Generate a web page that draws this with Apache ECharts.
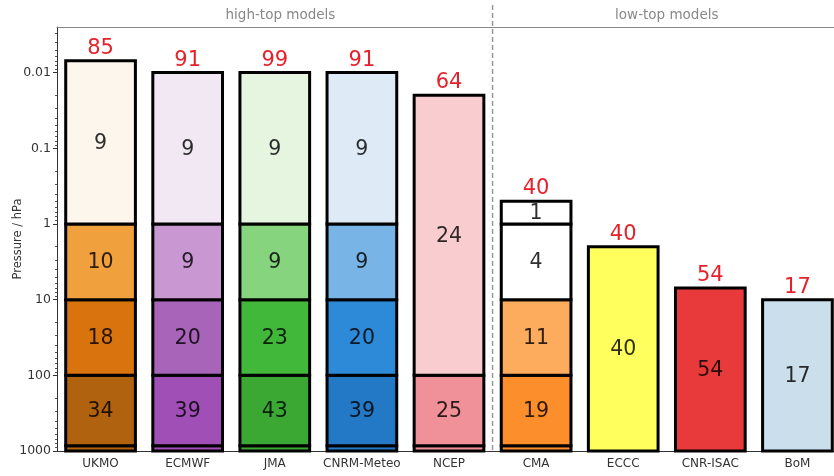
<!DOCTYPE html>
<html><head><meta charset="utf-8">
<script src="https://cdn.jsdelivr.net/npm/echarts@6/dist/echarts.min.js"></script>
<style>html,body{margin:0;padding:0;background:#fff}#c{width:834px;height:476px}</style>
</head><body><div id="c"></div>
<script>
// ---------- data ----------
const categories = ['UKMO','ECMWF','JMA','CNRM-Meteo','NCEP','CMA','ECCC','CNR-ISAC','BoM'];
const totalLevels = [85, 91, 99, 91, 64, 40, 40, 54, 17];
// segment boundaries (hPa), bottom -> top; last value is the model top
const segBounds = [
  [1000, 850, 100, 10, 1, 0.007],
  [1000, 850, 100, 10, 1, 0.01],
  [1000, 850, 100, 10, 1, 0.01],
  [1000, 850, 100, 10, 1, 0.01],
  [1000, 850, 100, 0.02],
  [1000, 850, 100, 10, 1, 0.5],
  [1000, 2],
  [1000, 7],
  [1000, 10]
];
// number of levels in each segment (null = not labelled)
const segLevels = [
  [null, 34, 18, 10, 9],
  [null, 39, 20, 9, 9],
  [null, 43, 23, 9, 9],
  [null, 39, 20, 9, 9],
  [null, 25, 24],
  [null, 19, 11, 4, 1],
  [40],
  [54],
  [17]
];
const yTickValues = [0.01, 0.1, 1, 10, 100, 1000];
const groupLabels = ['high-top models', 'low-top models'];
const groupSplitAfter = 'NCEP';

// ---------- styles ----------
const segColors = [
  ['#b0620f', '#b0620f', '#d9730d', '#f0a03c', '#fcf6ec'],
  ['#a04fb6', '#a04fb6', '#a764b8', '#c997d1', '#f1e8f3'],
  ['#3aa833', '#3aa833', '#41b83a', '#86d57e', '#e5f5e0'],
  ['#2479c6', '#2479c6', '#2d8ad8', '#78b4e5', '#deebf7'],
  ['#f09098', '#f09098', '#f9ccd0'],
  ['#fd8e2c', '#fd8e2c', '#fdab5d', '#ffffff', '#ffffff'],
  ['#ffff5e'],
  ['#e83a3a'],
  ['#cadeeb']
];
const FONT = '"DejaVu Sans", sans-serif';

// minor tick positions on the log axis
const minorTicks = [];
for (let e = -3; e <= 2; e++) for (let m = 2; m <= 9; m++) {
  const v = m * Math.pow(10, e);
  if (v >= 0.0025 && v <= 1000) minorTicks.push(+v.toPrecision(3));
}

const segData = [];
segBounds.forEach((b, m) => {
  for (let k = 0; k < b.length - 1; k++) {
    const n = segLevels[m][k];
    segData.push({ value: [m, b[k], b[k + 1], n == null ? -1 : n], itemStyle: { color: segColors[m][k] } });
  }
});
const totalData = categories.map((c, i) => [i, segBounds[i][segBounds[i].length - 1], totalLevels[i]]);

function renderSeg(params, api) {
  const i = api.value(0);
  const p0 = api.coord([i, api.value(1)]);
  const p1 = api.coord([i, api.value(2)]);
  const w = api.size([1, 0])[0] * 0.8;
  const n = api.value(3);
  const children = [{
    type: 'rect',
    shape: { x: p0[0] - w / 2, y: p1[1], width: w, height: p0[1] - p1[1] },
    style: { fill: api.visual('color'), stroke: '#000', lineWidth: 3 }
  }];
  if (n >= 0) children.push({
    type: 'text', x: p0[0], y: (p0[1] + p1[1]) / 2 + 1,
    style: { text: String(n), fill: 'rgba(0,0,0,0.82)', font: '20.5px ' + FONT, align: 'center', verticalAlign: 'middle' }
  });
  return { type: 'group', children };
}
function renderTotal(params, api) {
  const p = api.coord([api.value(0), api.value(1)]);
  return {
    type: 'text', x: p[0], y: p[1] - 2,
    style: { text: String(api.value(2)), fill: '#e5222b', font: '21px ' + FONT, align: 'center', verticalAlign: 'bottom' }
  };
}

const chart = echarts.init(document.getElementById('c'), null, { renderer: 'canvas' });
const yCommon = { type: 'log', logBase: 10, min: 0.0025, max: 1000, inverse: true, splitLine: { show: false } };
chart.setOption({
  animation: false,
  textStyle: { fontFamily: FONT },
  grid: { left: 57, right: -7, top: 27, bottom: 25, containLabel: false, outerBoundsMode: 'none' },
  xAxis: [{
    type: 'category', data: categories, position: 'bottom',
    axisLine: { lineStyle: { color: '#333', width: 1 } },
    axisTick: { alignWithLabel: true, length: 4, lineStyle: { color: '#333' } },
    axisLabel: { color: '#333', fontSize: 12, margin: 7, fontFamily: FONT, interval: 0 }
  }, {
    type: 'category', data: categories, position: 'top',
    axisLine: { lineStyle: { color: '#888', width: 1.2 } },
    axisTick: { show: false }, axisLabel: { show: false }
  }],
  yAxis: [Object.assign({}, yCommon, {
    name: 'Pressure / hPa', nameLocation: 'middle', nameGap: 33, nameRotate: 90, nameMoveOverlap: false,
    nameTextStyle: { color: '#333', fontSize: 11.5, fontFamily: FONT },
    axisLine: { show: true, lineStyle: { color: '#333', width: 1 } },
    axisTick: { show: true, length: 4, customValues: yTickValues, lineStyle: { color: '#333' } },
    axisLabel: { color: '#333', fontSize: 12.5, margin: 6, fontFamily: FONT, customValues: yTickValues,
      formatter: v => String(+v) }
  }), Object.assign({}, yCommon, {
    position: 'left',
    axisLine: { show: false },
    axisTick: { show: true, length: 2, customValues: minorTicks, lineStyle: { color: '#555' } },
    axisLabel: { show: false }
  })],
  series: [{
    type: 'custom', renderItem: renderSeg, data: segData, xAxisIndex: 0, yAxisIndex: 0,
    encode: { x: 0, y: [1, 2] }, clip: false
  }, {
    type: 'custom', renderItem: renderTotal, data: totalData, xAxisIndex: 0, yAxisIndex: 0,
    encode: { x: 0, y: 1 }, clip: false
  }]
});

// separator and group titles derived from the axis
const splitIdx = categories.indexOf(groupSplitAfter);
const xs = categories.map((c, i) => chart.convertToPixel({ xAxisIndex: 0 }, i));
const sepX = (xs[splitIdx] + xs[splitIdx + 1]) / 2;
const yBottom = chart.convertToPixel({ yAxisIndex: 0 }, 1000);
const yTop = chart.convertToPixel({ yAxisIndex: 0 }, 0.0025);
const band = xs[1] - xs[0];
chart.setOption({
  graphic: [{
    type: 'line', silent: true, z: 1,
    shape: { x1: sepX, y1: yTop - 22, x2: sepX, y2: yBottom },
    style: { stroke: '#999', lineWidth: 1.5, lineDash: [5, 3] }
  }, {
    type: 'text', x: xs[2] + band * 0.065, y: yTop - 12,
    style: { text: groupLabels[0], fill: '#888', font: '13.5px ' + FONT, align: 'center', verticalAlign: 'middle' }
  }, {
    type: 'text', x: (xs[splitIdx + 1] + xs[categories.length - 1]) / 2, y: yTop - 12,
    style: { text: groupLabels[1], fill: '#888', font: '13.5px ' + FONT, align: 'center', verticalAlign: 'middle' }
  }]
});
</script></body></html>
